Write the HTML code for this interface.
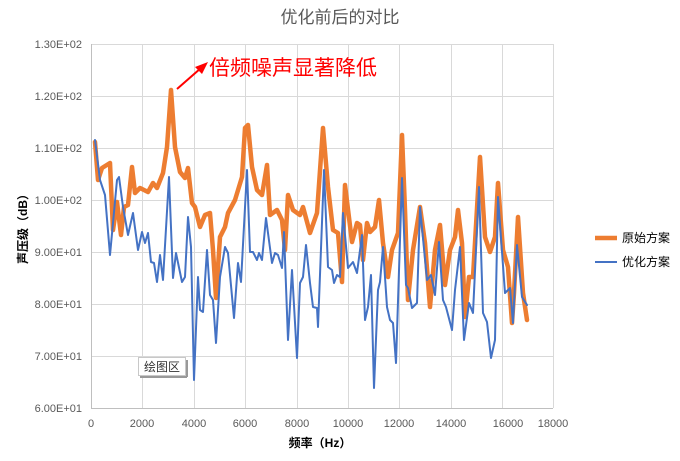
<!DOCTYPE html>
<html><head><meta charset="utf-8"><style>
body{margin:0;background:#fff;}
svg text{font-family:"Liberation Sans","Noto Sans CJK SC",sans-serif;}
</style></head><body>
<svg width="680" height="456" xmlns="http://www.w3.org/2000/svg">
<rect width="680" height="456" fill="#fff"/>
<text x="340" y="23" font-size="17" fill="#595959" text-anchor="middle">优化前后的对比</text>
<g stroke="#d9d9d9" stroke-width="1">
<line x1="91" y1="44.5" x2="553" y2="44.5"/><line x1="91" y1="96.5" x2="553" y2="96.5"/>
<line x1="91" y1="148.5" x2="553" y2="148.5"/><line x1="91" y1="200.5" x2="553" y2="200.5"/>
<line x1="91" y1="252.5" x2="553" y2="252.5"/><line x1="91" y1="304.5" x2="553" y2="304.5"/>
<line x1="91" y1="356.5" x2="553" y2="356.5"/>
<line x1="142.5" y1="44" x2="142.5" y2="408"/><line x1="194.5" y1="44" x2="194.5" y2="408"/>
<line x1="245.5" y1="44" x2="245.5" y2="408"/><line x1="297.5" y1="44" x2="297.5" y2="408"/>
<line x1="348.5" y1="44" x2="348.5" y2="408"/><line x1="399.5" y1="44" x2="399.5" y2="408"/>
<line x1="451.5" y1="44" x2="451.5" y2="408"/><line x1="502.5" y1="44" x2="502.5" y2="408"/>
<line x1="553.5" y1="44" x2="553.5" y2="408"/>
</g>
<line x1="91.5" y1="44" x2="91.5" y2="408" stroke="#bfbfbf"/>
<line x1="91" y1="408.5" x2="553" y2="408.5" stroke="#bfbfbf"/>
<g font-size="11" fill="#595959" text-anchor="end">
<text x="82" y="48">1.30E+02</text><text x="82" y="100">1.20E+02</text><text x="82" y="152">1.10E+02</text>
<text x="82" y="204">1.00E+02</text><text x="82" y="256">9.00E+01</text><text x="82" y="308">8.00E+01</text>
<text x="82" y="360">7.00E+01</text><text x="82" y="412">6.00E+01</text>
</g>
<g font-size="11" fill="#595959" text-anchor="middle">
<text x="91" y="427">0</text><text x="142" y="427">2000</text><text x="194" y="427">4000</text>
<text x="245" y="427">6000</text><text x="297" y="427">8000</text><text x="348" y="427">10000</text>
<text x="399" y="427">12000</text><text x="451" y="427">14000</text><text x="508" y="427">16000</text>
<text x="553" y="427">18000</text>
</g>
<text x="320" y="447" font-size="12" font-weight="bold" fill="#000" text-anchor="middle">频率（Hz）</text>
<text transform="translate(27,226) rotate(-90)" font-size="12" font-weight="bold" fill="#000" text-anchor="middle">声压级（dB）</text>
<polyline fill="none" stroke="#ed7d31" stroke-width="4.5" stroke-linejoin="round" stroke-linecap="round" points="95,142 98,180 102,168 110,163 113,230 117,202 121,235 124,207 128,205 132,167 135,193 140,188 148,192 153,183 157,188 163,173 167,147 171,90 175,147 180,172 185,178 188,168 192,203 195,207 200,227 205,215 210,213 213,250 216,298 220,237 225,227 228,213 235,200 242,177 245,128 248,125 252,167 257,190 262,195 267,165 270,215 277,210 282,220 285,250 288,195 293,210 300,215 303,207 310,233 317,213 323,128 328,187 333,230 338,233 342,282 345,185 352,242 357,223 360,225 363,260 367,223 370,232 375,227 379,200 383,243 388,277 392,250 398,233 402,135 405,210 408,300 413,250 420,207 425,243 430,307 435,250 440,225 445,285 450,250 455,237 458,210 462,243 465,317 469,277 473,277 480,157 485,237 490,252 495,237 498,183 503,250 508,267 512,323 514,293 518,217 523,293 527,320"/>
<polyline fill="none" stroke="#4472c4" stroke-width="2" stroke-linejoin="round" stroke-linecap="round" points="95,140 100,180 105,195 110,255 117,180 119,177 123,207 128,235 133,213 138,250 142,232 145,243 148,233 151,262 154,263 157,282 160,255 163,280 169,177 173,278 176,253 182,282 185,277 188,217 191,247 194,380 198,277 200,310 203,312 207,250 210,295 213,300 216,343 220,277 225,247 228,253 234,318 238,263 241,282 247,170 250,252 253,252 257,260 259,253 262,260 266,218 272,263 275,253 278,255 282,268 284,232 288,340 292,270 297,358 300,283 303,277 306,245 310,283 313,307 317,308 318,327 324,170 328,267 332,270 334,283 337,275 340,277 343,213 348,268 353,262 357,273 362,235 365,320 368,307 371,275 374,388 378,290 380,282 383,247 387,307 390,320 393,323 396,363 402,178 406,285 408,288 412,308 415,305 417,303 420,207 427,280 431,275 435,295 439,242 443,300 446,307 452,330 455,290 460,247 464,340 469,303 473,313 479,187 483,313 487,322 491,358 495,340 498,197 505,293 510,288 513,323 517,245 522,297 527,305"/>
<line x1="177" y1="89" x2="201" y2="68" stroke="#ff0000" stroke-width="2"/>
<polygon points="208,62 195,67 202,74" fill="#ff0000"/>
<text x="209" y="75" font-size="21" fill="#ff0000">倍频噪声显著降低</text>
<rect x="138.5" y="357.5" width="47" height="18" fill="#fff" stroke="#c8c8c8"/>
<line x1="140" y1="377" x2="187" y2="377" stroke="#999" stroke-width="2"/>
<line x1="187" y1="360" x2="187" y2="377" stroke="#999" stroke-width="2"/>
<text x="162" y="371" font-size="12" fill="#333" text-anchor="middle">绘图区</text>
<line x1="595" y1="238" x2="617" y2="238" stroke="#ed7d31" stroke-width="4.5"/>
<text x="622" y="242" font-size="12" fill="#000">原始方案</text>
<line x1="595" y1="262" x2="617" y2="262" stroke="#4472c4" stroke-width="2"/>
<text x="622" y="266" font-size="12" fill="#000">优化方案</text>
</svg>
</body></html>
